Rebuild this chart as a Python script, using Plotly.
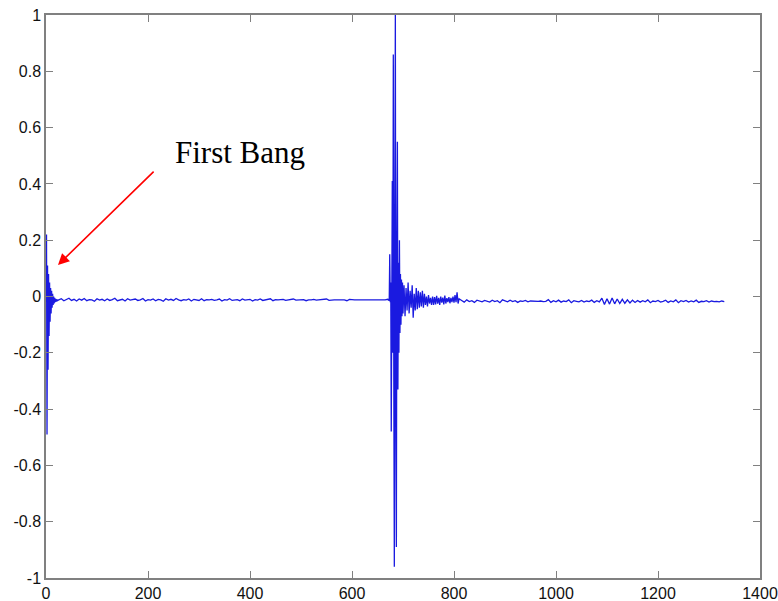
import plotly.graph_objects as go

# ---------------- data ----------------
# first bang, samples 0..24
x_first = list(range(0, 25))
y_first = [-0.01, 0.22, -0.49, 0.11, -0.26, 0.08, -0.14, 0.05, -0.09, 0.03,
           -0.06, 0.02, -0.04, 0.01, -0.03, 0.0, -0.025, -0.005, -0.02, -0.008,
           -0.018, -0.01, -0.015, -0.012, -0.013]

# quiet baseline, samples 25..670 every 5
x_quiet = list(range(25, 671, 5))
y_quiet = [
    -0.012, -0.008, -0.015, -0.011, -0.006, -0.014, -0.010, -0.016, -0.009, -0.013,
    -0.007, -0.015, -0.011, -0.012, -0.017, -0.008, -0.013, -0.010, -0.015, -0.009,
    -0.014, -0.011, -0.006, -0.015, -0.012, -0.010, -0.016, -0.008, -0.013, -0.011,
    -0.009, -0.014, -0.012, -0.007, -0.016, -0.011, -0.013, -0.009, -0.015, -0.010,
    -0.012, -0.017, -0.008, -0.013, -0.010, -0.014, -0.007, -0.012, -0.015, -0.011,
    -0.013, -0.009, -0.016, -0.010, -0.012, -0.014, -0.008, -0.015, -0.011, -0.012,
    -0.010, -0.014, -0.012, -0.009, -0.016, -0.011, -0.013, -0.008, -0.014, -0.012,
    -0.011, -0.015, -0.009, -0.013, -0.012, -0.010, -0.016, -0.011, -0.013, -0.009,
    -0.014, -0.012, -0.012, -0.008, -0.015, -0.011, -0.012, -0.012, -0.010, -0.014,
    -0.012, -0.012, -0.009, -0.013, -0.012, -0.012, -0.011, -0.015, -0.012, -0.012,
    -0.010, -0.013, -0.012, -0.012, -0.012, -0.009, -0.014, -0.012, -0.012, -0.012,
    -0.011, -0.012, -0.012, -0.015, -0.010, -0.012, -0.012, -0.012, -0.012, -0.013,
    -0.012, -0.012, -0.012, -0.011, -0.012, -0.012, -0.012, -0.012, -0.012, -0.010,
]

# main echo burst, samples 671..700
x_burst = list(range(671, 701))
y_burst = [-0.012, -0.01, -0.015, 0.15, -0.02, 0.05, -0.48, 0.10, 0.41, -0.2,
           0.86, -0.3, -0.96, 0.3, 1.0, -0.5, -0.89, 0.2, 0.55, -0.33,
           0.12, -0.2, 0.2, -0.13, 0.08, -0.1, 0.06, -0.07, 0.05, -0.06]

# ringing after the echo, samples 702..810 every 2
x_ring = list(range(702, 811, 2))
y_ring = [0.04, -0.07, 0.03, -0.05, 0.05, -0.06, 0.02, -0.04, 0.04, -0.075,
          0.01, -0.05, 0.03, -0.045, 0.02, -0.04, 0.015, -0.035, 0.02, -0.04,
          0.01, -0.03, 0.0, -0.035, 0.005, -0.025, -0.005, -0.03, 0.0, -0.03,
          -0.002, -0.028, 0.002, -0.025, -0.005, -0.03, 0.0, -0.022, -0.004, -0.028,
          0.003, -0.025, -0.006, -0.02, -0.002, -0.024, -0.005, -0.02, 0.0, -0.022,
          0.005, -0.02, 0.015, -0.025, -0.008]

# tail noise, samples 815..1330 every 5
x_tail = list(range(815, 1331, 5))
y_tail = [
    -0.014, -0.020, -0.012, -0.018, -0.015, -0.021, -0.013, -0.017, -0.019, -0.014,
    -0.016, -0.020, -0.013, -0.018, -0.015, -0.022, -0.012, -0.017, -0.019, -0.013,
    -0.018, -0.015, -0.021, -0.016, -0.017, -0.014, -0.019, -0.016, -0.017, -0.018,
    -0.017, -0.016, -0.018, -0.017, -0.011, -0.021, -0.015, -0.019, -0.013, -0.020,
    -0.016, -0.018, -0.012, -0.022, -0.015, -0.017, -0.019, -0.014, -0.020, -0.016,
    -0.018, -0.013, -0.021, -0.015, -0.019, -0.006, -0.028, -0.008, -0.027, -0.005,
    -0.026, -0.009, -0.025, -0.010, -0.024, -0.012, -0.023, -0.013, -0.021, -0.014,
    -0.020, -0.015, -0.019, -0.012, -0.022, -0.016, -0.018, -0.014, -0.020, -0.017,
    -0.013, -0.021, -0.016, -0.019, -0.012, -0.022, -0.015, -0.018, -0.014, -0.020,
    -0.016, -0.019, -0.013, -0.021, -0.017, -0.018, -0.015, -0.020, -0.016, -0.018,
    -0.017, -0.019, -0.016, -0.018,
]

x_ticks = [0, 200, 400, 600, 800, 1000, 1200, 1400]
x_tick_text = ["0", "200", "400", "600", "800", "1000", "1200", "1400"]
y_ticks = [-1, -0.8, -0.6, -0.4, -0.2, 0, 0.2, 0.4, 0.6, 0.8, 1]
y_tick_text = ["-1", "-0.8", "-0.6", "-0.4", "-0.2", "0", "0.2", "0.4", "0.6", "0.8", "1"]

annotation_text = "First Bang"
arrow_tip = (23.5, 0.112)
arrow_tail = (214, 0.449)
label_pos = (249, 0.51)

# ---------------- figure ----------------
xs = x_first + x_quiet + x_burst + x_ring + x_tail
ys = y_first + y_quiet + y_burst + y_ring + y_tail

fig = go.Figure()
fig.add_trace(go.Scatter(x=xs, y=ys, mode="lines",
                         line=dict(color="#1a1ae0", width=1.3),
                         showlegend=False, hoverinfo="skip", cliponaxis=False))

axis_common = dict(
    showgrid=False, zeroline=False, showline=True, linecolor="#808080",
    linewidth=1.5, mirror="ticks", ticks="inside", ticklen=7,
    tickcolor="#808080", tickwidth=1, automargin=False,
    tickfont=dict(family="Liberation Sans, Arial, sans-serif", size=16, color="#111"),
)
fig.update_xaxes(range=[0, 1400], tickvals=x_ticks, ticktext=x_tick_text, **axis_common)
fig.update_yaxes(range=[-1, 1], tickvals=y_ticks, ticktext=y_tick_text, **axis_common)

fig.add_annotation(x=arrow_tip[0], y=arrow_tip[1], ax=arrow_tail[0], ay=arrow_tail[1],
                   xref="x", yref="y", axref="x", ayref="y", text="",
                   showarrow=True, arrowhead=2, arrowsize=1.4, arrowwidth=1.6,
                   arrowcolor="#ff0000")
fig.add_annotation(x=label_pos[0], y=label_pos[1], xref="x", yref="y",
                   text=annotation_text, showarrow=False, xanchor="left", yanchor="middle",
                   font=dict(family="Liberation Serif, Times New Roman, serif", size=31, color="#000"))

fig.update_layout(width=778, height=601,
                  margin=dict(l=46, r=18, t=15, b=23),
                  paper_bgcolor="white", plot_bgcolor="white")

fig.write_html("out.html")
